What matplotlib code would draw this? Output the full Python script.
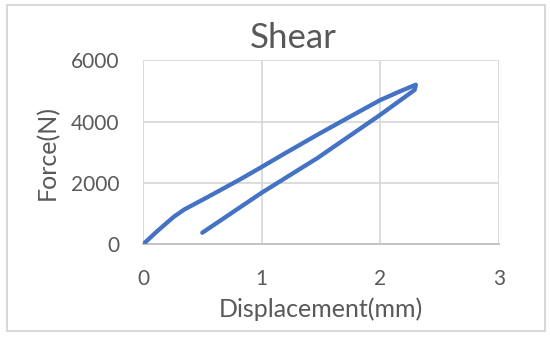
import matplotlib.pyplot as plt
from matplotlib.patches import Rectangle

# loading branch then unloading branch of the shear test
disp_mm = [0, 0.12, 0.26, 0.35, 0.54, 0.82, 1.0, 1.19, 1.47, 1.75, 2.0, 2.17, 2.3,
           2.29, 2.0, 1.47, 1.0, 0.5]
force_n = [0, 430, 900, 1140, 1530, 2120, 2520, 2950, 3570, 4170, 4700, 4990, 5200,
           5030, 4220, 2810, 1680, 380]

x_ticks = [0, 1, 2, 3]
y_ticks = [0, 2000, 4000, 6000]

plt.rcParams['font.family'] = ['Lato', 'DejaVu Sans']
text_col = '#595959'
grid_col = '#d9d9d9'

fig = plt.figure(figsize=(5.5, 3.38), dpi=100)
ax = fig.add_axes([0.26, 0.277, 0.647, 0.545])

ax.plot(disp_mm, force_n, color='#4472c4', linewidth=3.1, solid_capstyle='round',
        solid_joinstyle='round', zorder=3)

ax.set_xlim(0, 3)
ax.set_ylim(0, 6000)
ax.set_xticks(x_ticks)
ax.set_yticks(y_ticks)
ax.grid(True, color=grid_col, linewidth=1.3)
ax.set_axisbelow(True)
for s in ['left', 'top', 'right']:
    ax.spines[s].set_visible(False)
ax.spines['bottom'].set_color('#bfbfbf')
ax.spines['bottom'].set_linewidth(1.3)
ax.tick_params(length=0, labelsize=15, labelcolor=text_col)
ax.tick_params(axis='x', pad=18)
ax.tick_params(axis='y', pad=17)

fig.text(293 / 550, 1 - 48 / 338, 'Shear', fontsize=25, color=text_col,
         ha='center', va='baseline')
ax.set_xlabel('Displacement(mm)', fontsize=18, color=text_col)
ax.set_ylabel('Force(N)', fontsize=18, color=text_col)
ax.xaxis.set_label_coords(0.5, -0.35)
ax.xaxis.label.set_va('center')
ax.yaxis.set_label_coords(-0.27, 0.5)
ax.yaxis.label.set_va('center')

fig.patches.append(Rectangle((7 / 550, 7 / 338), 538 / 550, 326 / 338,
                             transform=fig.transFigure, fill=False,
                             edgecolor=grid_col, linewidth=1.5))

fig.savefig('out.png', dpi=100)
